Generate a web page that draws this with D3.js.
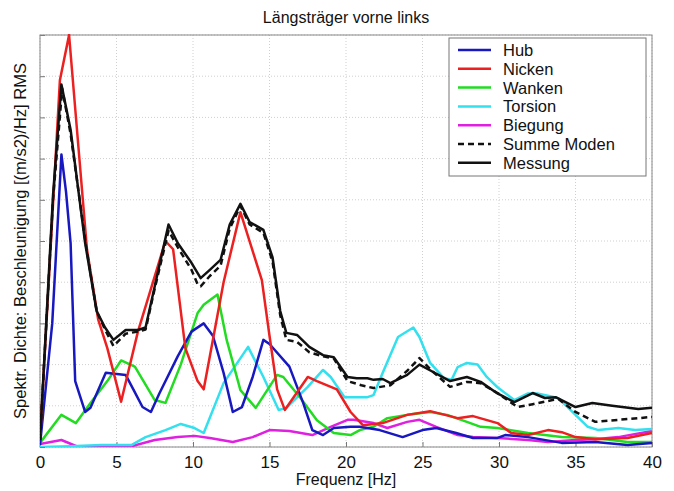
<!DOCTYPE html>
<html><head><meta charset="utf-8">
<script src="https://cdn.jsdelivr.net/npm/d3@7"></script>
<style>body{margin:0;background:#fff}svg{display:block}text{font-family:"Liberation Sans",Arial,sans-serif;fill:#111}</style>
</head><body><svg id="c" width="674" height="491"></svg>
<script>
const title = "Längsträger vorne links";
const xLabel = "Frequenz [Hz]";
const yLabel = "Spektr. Dichte: Beschleunigung [(m/s2)/Hz] RMS";
const xTicks = [0,5,10,15,20,25,30,35,40];
const yGrid = [0,1,2,3,4,5,6,7,8,9,10];

const hub = [[0,0.05],[0.8,3.0],[1.4,7.1],[1.7,6.2],[2.0,4.95],[2.3,1.6],[2.95,0.85],[3.3,0.95],[4.3,1.8],[5.6,1.75],[6.1,1.4],[6.7,0.97],[7.25,0.85],[7.8,1.3],[9.0,2.2],[9.9,2.8],[10.7,3.0],[11.3,2.7],[12.0,1.8],[12.6,0.85],[13.2,0.97],[13.9,1.7],[14.6,2.6],[15.0,2.5],[16.3,1.95],[17.2,1.07],[17.8,0.41],[18.5,0.29],[19.2,0.46],[20.3,0.49],[20.9,0.49],[22.2,0.41],[23.7,0.24],[25.0,0.41],[25.9,0.46],[27.2,0.34],[28.3,0.22],[29.9,0.22],[30.4,0.29],[31.9,0.24],[34.1,0.1],[36.3,0.12],[38.4,0.05],[40,0.1]];
const nicken = [[0,0.17],[1.3,8.9],[1.9,10.0],[3.07,4.8],[3.8,3.1],[4.4,2.4],[5.3,1.1],[6.4,2.8],[8.2,5.0],[8.7,4.8],[9.5,2.4],[10.3,1.6],[10.7,1.4],[12.0,4.0],[13.1,5.7],[14.5,4.05],[15.0,2.7],[15.5,1.4],[16.0,0.9],[17.5,1.7],[18.1,1.6],[19.4,1.4],[20.3,0.85],[21.1,0.53],[22.4,0.58],[24.0,0.78],[25.5,0.87],[27.3,0.7],[28.3,0.75],[29.9,0.58],[30.8,0.34],[31.9,0.29],[33.2,0.41],[34.1,0.36],[35.0,0.24],[36.3,0.19],[38.4,0.22],[40,0.34]];
const wanken = [[0,0.1],[1.4,0.78],[2.35,0.58],[3.3,1.07],[4.4,1.6],[5.3,2.1],[6.2,1.95],[7.5,1.14],[8.2,1.07],[9.2,2.0],[10.3,3.25],[10.7,3.45],[11.6,3.7],[12.2,2.6],[13.1,1.38],[14.1,0.95],[15.5,1.75],[15.9,1.7],[17.0,1.2],[18.1,0.65],[19.2,0.34],[20.3,0.29],[20.9,0.41],[21.8,0.49],[22.7,0.7],[24.0,0.78],[25.5,0.85],[26.6,0.78],[27.9,0.61],[28.8,0.49],[29.9,0.46],[31.9,0.34],[34.1,0.24],[36.3,0.22],[38.4,0.12],[40,0.12]];
const torsion = [[0,0.0],[2.0,0.02],[4.0,0.05],[6.0,0.05],[6.9,0.24],[8.2,0.41],[9.2,0.56],[10.1,0.46],[10.7,0.34],[12.0,1.55],[13.6,2.43],[14.6,1.7],[15.6,0.9],[16.1,0.95],[17.5,1.46],[18.5,1.87],[19.0,1.7],[19.9,1.21],[21.4,1.21],[21.8,1.26],[22.4,1.8],[23.4,2.67],[24.4,2.9],[24.8,2.67],[25.5,2.04],[26.4,1.67],[26.9,1.63],[27.3,1.94],[27.9,2.04],[28.6,2.0],[29.2,1.7],[29.9,1.45],[31.0,1.14],[31.9,1.3],[32.5,1.3],[33.5,1.22],[33.9,1.18],[35.0,0.78],[35.8,0.49],[36.5,0.41],[37.8,0.46],[38.9,0.41],[40,0.44]];
const biegung = [[0,0.07],[1.4,0.17],[2.5,0.0],[4.0,0.03],[6.0,0.02],[7.5,0.17],[9.0,0.24],[10.1,0.27],[11.1,0.22],[12.6,0.12],[13.9,0.24],[15.0,0.41],[16.3,0.39],[17.8,0.29],[19.0,0.49],[20.1,0.66],[20.5,0.66],[21.8,0.58],[22.7,0.46],[24.0,0.61],[24.8,0.66],[25.9,0.49],[27.3,0.29],[28.3,0.24],[29.9,0.22],[31.9,0.17],[33.2,0.12],[35.0,0.17],[36.3,0.19],[37.8,0.24],[40,0.39]];
const summe = [[0,0.17],[0.85,6.0],[1.45,8.7],[2.0,7.6],[3.0,4.9],[3.7,3.3],[4.25,2.85],[4.8,2.45],[5.6,2.75],[6.4,2.8],[6.9,2.85],[7.5,3.85],[8.4,5.25],[9.0,4.85],[9.9,4.3],[10.3,3.95],[10.5,3.9],[11.1,4.15],[11.8,4.4],[12.4,5.3],[13.1,5.85],[13.7,5.4],[14.6,5.2],[15.2,4.5],[15.7,3.2],[16.1,2.6],[16.8,2.55],[17.6,2.3],[18.5,2.2],[19.2,2.15],[20.1,1.6],[21.0,1.5],[21.8,1.43],[22.9,1.5],[24.0,1.85],[24.8,2.16],[25.7,1.82],[26.8,1.46],[27.9,1.58],[28.8,1.55],[29.9,1.31],[31.2,0.97],[32.2,1.04],[33.5,1.14],[33.9,1.16],[35.0,0.85],[36.3,0.61],[37.8,0.66],[39.1,0.7],[40,0.73]];
const messung = [[0,0.17],[0.85,6.1],[1.4,8.8],[2.0,7.7],[2.95,4.95],[3.7,3.3],[4.25,2.9],[4.8,2.6],[5.6,2.84],[6.4,2.84],[6.9,2.9],[7.5,3.9],[8.4,5.4],[9.0,4.95],[9.9,4.47],[10.5,4.1],[11.1,4.3],[11.8,4.54],[12.4,5.4],[13.1,5.9],[13.7,5.46],[14.6,5.27],[15.2,4.6],[15.7,3.3],[16.1,2.77],[16.8,2.72],[17.6,2.43],[18.5,2.23],[19.2,2.18],[20.1,1.7],[20.7,1.67],[21.4,1.67],[21.8,1.63],[22.4,1.65],[22.9,1.55],[24.0,1.75],[24.8,2.0],[25.7,1.82],[26.8,1.6],[27.9,1.7],[28.8,1.58],[29.9,1.3],[31.0,1.09],[32.2,1.31],[33.0,1.19],[33.7,1.21],[35.0,0.97],[36.1,1.07],[37.4,1.0],[39.1,0.92],[40,0.95]];

const seriesNames = ["Hub","Nicken","Wanken","Torsion","Biegung","Summe Moden","Messung"];
const seriesData = [hub,nicken,wanken,torsion,biegung,summe,messung];
const seriesColors = ["#1818c0","#ec2020","#22dc22","#33e0ee","#e020e0","#111","#111"];
const seriesDash = [null,null,null,null,null,"6,4",null];

const svg = d3.select("#c");
const L=40,R=652,T=35,B=447;
const x = d3.scaleLinear().domain([0,40]).range([L,R]);
const y = d3.scaleLinear().domain([0,10]).range([B,T]);

// grid
const g = svg.append("g");
g.selectAll(".vg").data(xTicks).enter().append("line")
  .attr("x1",d=>x(d)).attr("x2",d=>x(d)).attr("y1",T).attr("y2",B)
  .attr("stroke","#cfcfcf").attr("stroke-width",1).attr("stroke-dasharray","1,2");
g.selectAll(".hg").data(yGrid).enter().append("line")
  .attr("x1",L).attr("x2",R).attr("y1",d=>y(d)).attr("y2",d=>y(d))
  .attr("stroke","#cfcfcf").attr("stroke-width",1).attr("stroke-dasharray","1,2");

// axes
const xa = svg.append("g").attr("transform",`translate(0,${B})`)
  .call(d3.axisBottom(x).tickValues(xTicks).tickSize(-5).tickPadding(9).tickFormat(d3.format("d")));
xa.select(".domain").remove();
xa.selectAll("line").attr("stroke","#777");
xa.selectAll("text").style("font-size","17px").attr("fill","#111");
const ya = svg.append("g").attr("transform",`translate(${L},0)`)
  .call(d3.axisLeft(y).tickValues(yGrid).tickSize(-5).tickFormat(""));
ya.select(".domain").remove();
ya.selectAll("line").attr("stroke","#777");

svg.append("rect").attr("x",L).attr("y",T).attr("width",R-L).attr("height",B-T)
  .attr("fill","none").attr("stroke","#888").attr("stroke-width",1);

// lines
const line = d3.line().x(d=>x(d[0])).y(d=>y(d[1]));
svg.append("clipPath").attr("id","cp").append("rect").attr("x",L).attr("y",T-1).attr("width",R-L).attr("height",B-T+1);
const order = [4,3,2,0,1,5,6];
order.forEach(i=>{
  svg.append("path").datum(seriesData[i]).attr("d",line)
    .attr("clip-path","url(#cp)")
    .attr("fill","none").attr("stroke",seriesColors[i]).attr("stroke-width",2.5)
    .attr("stroke-linejoin","round")
    .attr("stroke-dasharray",seriesDash[i]);
});

// title & labels
svg.append("text").attr("x",346).attr("y",23).attr("text-anchor","middle").style("font-size","16px").text(title);
svg.append("text").attr("x",346).attr("y",485).attr("text-anchor","middle").style("font-size","16px").text(xLabel);
svg.append("text").attr("transform","translate(26,241) rotate(-90)").attr("text-anchor","middle").style("font-size","16.5px").text(yLabel);

// legend
const lg = svg.append("g");
lg.append("rect").attr("x",449).attr("y",38).attr("width",197).attr("height",138).attr("fill","#fff").attr("stroke","#777");
seriesNames.forEach((n,i)=>{
  const yy = 50 + i*18.8;
  lg.append("line").attr("x1",458).attr("x2",491).attr("y1",yy).attr("y2",yy)
    .attr("stroke",seriesColors[i]).attr("stroke-width",2.5).attr("stroke-dasharray",seriesDash[i]);
  lg.append("text").attr("x",503).attr("y",yy+6).style("font-size","16.5px").text(n);
});
</script></body></html>
